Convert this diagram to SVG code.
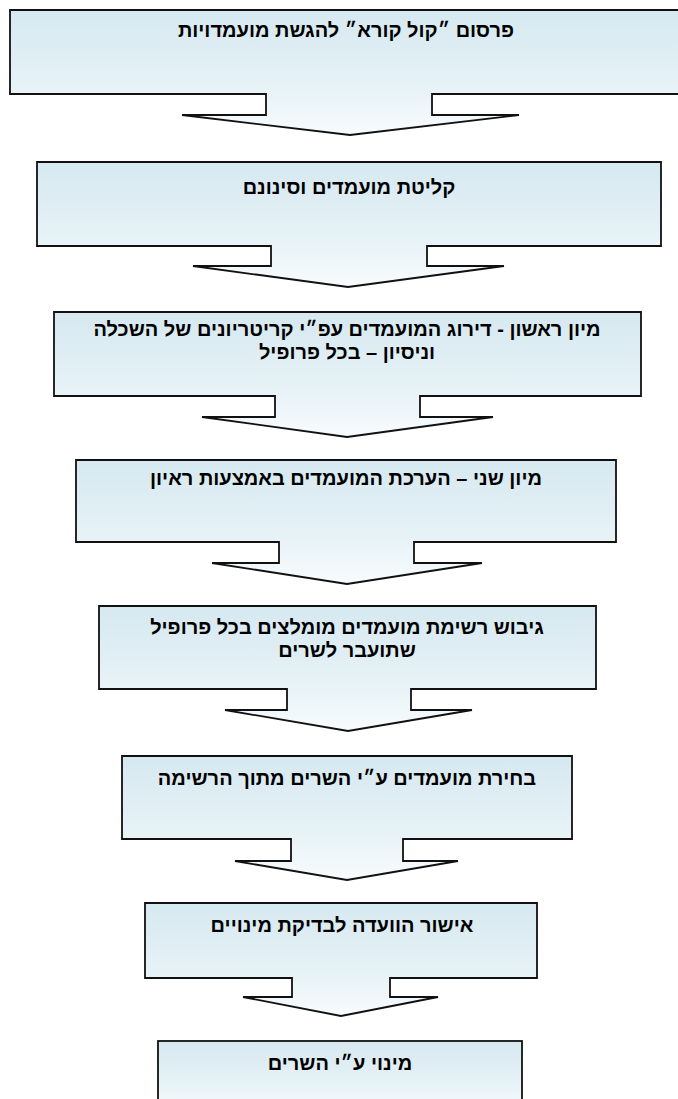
<svg xmlns="http://www.w3.org/2000/svg" width="678" height="1099" viewBox="0 0 678 1099">
<style>
.shape{fill:url(#g);stroke:#111;stroke-width:1.8;stroke-linejoin:miter}
.t{font-family:"Liberation Sans","DejaVu Sans",Arial,sans-serif;font-weight:bold;font-size:20px;fill:#000;text-anchor:middle;direction:rtl;unicode-bidi:embed}
</style>
<defs>
<linearGradient id="g" x1="0" y1="0" x2="0" y2="1">
<stop offset="0" stop-color="#d6e8f0"/>
<stop offset="0.6" stop-color="#e6f2f6"/>
<stop offset="1" stop-color="#f8fbfd"/>
</linearGradient>
</defs>
<rect width="678" height="1099" fill="#fff"/>
<g id="connectors"></g>
<g id="n1">
<path class="shape" d="M10,10 H682 V94 H432 V115 H519 L350,135 L182,115 H266 V94 H10 Z"/>
<text class="t" x="346" y="37">פרסום ״קול קורא״ להגשת מועמדויות</text>
</g>
<g id="n2">
<path class="shape" d="M37,162 H661 V246 H427 V266 H504 L348,287 L193,266 H271 V246 H37 Z"/>
<text class="t" x="349" y="194">קליטת מועמדים וסינונם</text>
</g>
<g id="n3">
<path class="shape" d="M54,312 H641 V396 H420 V417 H493 L347,437 L202,417 H275 V396 H54 Z"/>
<text class="t" x="347" y="336">מיון ראשון - דירוג המועמדים עפ״י קריטריונים של השכלה</text>
<text class="t" x="347" y="359">וניסיון – בכל פרופיל</text>
</g>
<g id="n4">
<path class="shape" d="M76,460 H616 V542 H414 V563 H482 L347,584 L212,563 H279 V542 H76 Z"/>
<text class="t" x="346" y="485">מיון שני – הערכת המועמדים באמצעות ראיון</text>
</g>
<g id="n5">
<path class="shape" d="M99,606 H596 V689 H411 V710 H472 L348,731 L225,710 H287 V689 H99 Z"/>
<text class="t" x="347" y="634">גיבוש רשימת מועמדים מומלצים בכל פרופיל</text>
<text class="t" x="347" y="657">שתועבר לשרים</text>
</g>
<g id="n6">
<path class="shape" d="M122,756 H572 V839 H403 V861 H458 L347,880 L235,861 H291 V839 H122 Z"/>
<text class="t" x="347" y="785">בחירת מועמדים ע״י השרים מתוך הרשימה</text>
</g>
<g id="n7">
<path class="shape" d="M145,903 H537 V978 H390 V997 H438 L341,1016 L243,997 H292 V978 H145 Z"/>
<text class="t" x="342" y="932">אישור הוועדה לבדיקת מינויים</text>
</g>
<g id="n8">
<rect class="shape" x="158" y="1041" width="364" height="70"/>
<text class="t" x="340" y="1070">מינוי ע״י השרים</text>
</g>
</svg>
